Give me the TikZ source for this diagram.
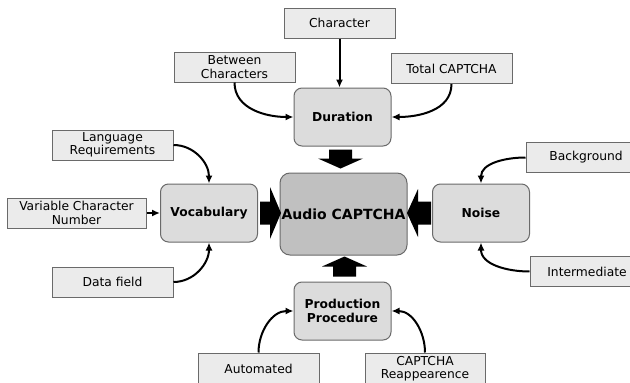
\documentclass[tikz,border=0pt]{standalone}
\usepackage{fontspec}
\setmainfont{DejaVu Sans}
\usetikzlibrary{arrows.meta,calc}
\definecolor{boxfill}{HTML}{EBEBEB}
\definecolor{boxline}{HTML}{6A6A6A}
\definecolor{midfill}{HTML}{DCDCDC}
\definecolor{corefill}{HTML}{C0C0C0}
\newcommand\bigarrow[5]{% start, angle, length, head length, head half width
  \fill[black, shift={(#1)}, rotate=#2]
    (0,-11.5) -- (#3-#4,-11.5) -- (#3-#4,-#5) -- (#3,0) -- (#3-#4,#5) -- (#3-#4,11.5) -- (0,11.5) -- cycle;}
\begin{document}
\begin{tikzpicture}[x=1pt,y=-1pt,
  leaf/.style={draw=boxline, line width=1pt, fill=boxfill, minimum height=30pt,
    inner sep=0pt, align=center, font=\fontsize{12.3}{13.5}\selectfont},
  topic/.style={draw=boxline, line width=1pt, fill=midfill, rounded corners=8pt,
    minimum width=97pt, minimum height=58pt, inner sep=0pt, align=center,
    font=\fontsize{12.3}{13.5}\selectfont\bfseries},
  core/.style={draw=boxline, line width=1pt, fill=corefill, rounded corners=10pt,
    minimum width=127pt, minimum height=82pt, inner sep=0pt, align=center,
    font=\fontsize{14}{16}\selectfont\bfseries},
  link/.style={line width=2pt, -{Latex[length=8pt,width=7pt]}}]
\clip (0,0) rectangle (630,383);
\fill[white] (0,0) rectangle (630,383);

% central and topic nodes
\node[core]  (audio) at (343.5,214) {Audio CAPTCHA};
\node[topic] (dur)   at (342.5,117) {Duration};
\node[topic] (vocab) at (209,213)   {Vocabulary};
\node[topic] (noise) at (481,213)   {Noise};
\node[topic] (prod)  at (342.5,311) {Production\\Procedure};

% leaf nodes
\node[leaf, minimum width=111pt] (char) at (339.5,23)  {Character};
\node[leaf, minimum width=121pt] (betw) at (234.5,67)  {Between\\Characters};
\node[leaf, minimum width=121pt] (totl) at (451.5,68.5){Total CAPTCHA};
\node[leaf, minimum width=121pt] (lang) at (112.5,145) {Language\\Requirements};
\node[leaf, minimum width=139pt] (varc) at (76.5,213)  {Variable Character\\Number};
\node[leaf, minimum width=121pt] (data) at (112.5,282) {Data field};
\node[leaf, minimum width=120pt] (back) at (586,157.5) {Background};
\node[leaf, minimum width=114pt] (inter) at (587,271.5){Intermediate};
\node[leaf, minimum width=121pt, minimum height=31pt] (auto) at (258.5,368.5) {Automated};
\node[leaf, minimum width=120pt, minimum height=31pt] (reap) at (425,368.5) {CAPTCHA\\Reappearence};

% connectors
\draw[link] (char.south) -- (char.south |- dur.north);
\draw[link] (betw.south) to[out=-90,in=180] (dur.west);
\draw[link] (totl.south) to[out=-90,in=0] (dur.east);
\draw[link] (lang.east) to[out=0,in=90] (vocab.north);
\draw[link] (varc.east) -- (vocab.west);
\draw[link] (data.east) to[out=0,in=-90] (vocab.south);
\draw[link] (back.west) to[out=180,in=90] (noise.north);
\draw[link] (inter.west) to[out=180,in=-90] (noise.south);
\draw[link] (auto.north) to[out=90,in=180] (prod.west);
\draw[link] (reap.north) to[out=90,in=0] (prod.east);

% block arrows into the core
\bigarrow{$(dur.south)+(-2,3)$}{-90}{19}{10}{22.5}
\bigarrow{$(vocab.east)+(2,0)$}{0}{21}{11}{26}
\bigarrow{$(noise.west)+(-1,0)$}{180}{24}{11}{24}
\bigarrow{$(prod.north)+(2,-5)$}{90}{20}{10}{22.5}
\end{tikzpicture}
\end{document}
